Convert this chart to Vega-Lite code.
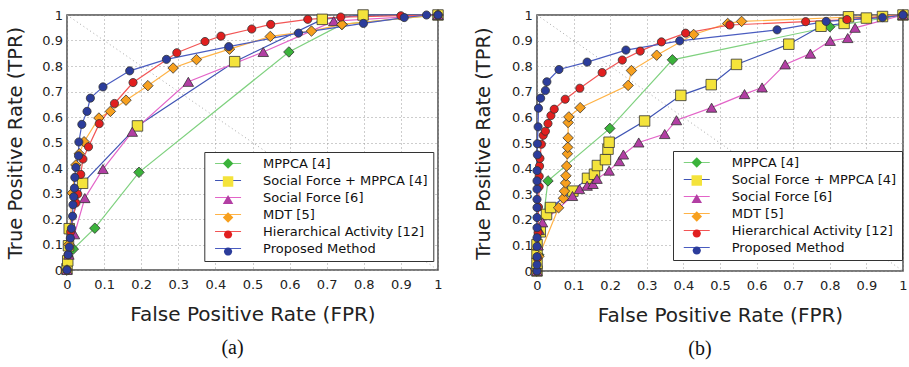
{
  "$schema": "https://vega.github.io/schema/vega-lite/v6.json",
  "background": "white",
  "padding": {"left": 5, "right": 5, "top": 7, "bottom": 5},
  "spacing": 26,
  "config": {
    "view": {"stroke": "#4d4d4d", "strokeWidth": 1.5},
    "axis": {"grid": true, "gridColor": "#9a9a9a", "gridDash": [1, 3], "gridWidth": 1, "domain": false, "ticks": false,
      "labelFont": "DejaVu Sans", "labelFontSize": 13, "labelColor": "#222", "labelFlush": false, "labelOverlap": false,
      "titleFont": "DejaVu Sans", "titleFontWeight": "normal", "titleColor": "#222"}
  },
  "datasets": {
    "diag": [{"fpr": 0, "tpr": 1}, {"fpr": 1, "tpr": 0}],
    "darkgrid": [{"fpr": 0.2}, {"fpr": 0.8}],
    "a": [
      {"method": "MPPCA [4]", "fpr": 0, "tpr": 0},
      {"method": "MPPCA [4]", "fpr": 0.017, "tpr": 0.082},
      {"method": "MPPCA [4]", "fpr": 0.075, "tpr": 0.164},
      {"method": "MPPCA [4]", "fpr": 0.194, "tpr": 0.383},
      {"method": "MPPCA [4]", "fpr": 0.598, "tpr": 0.855},
      {"method": "MPPCA [4]", "fpr": 0.741, "tpr": 0.963},
      {"method": "MPPCA [4]", "fpr": 1, "tpr": 1},
      {"method": "Social Force + MPPCA [4]", "fpr": 0, "tpr": 0.005},
      {"method": "Social Force + MPPCA [4]", "fpr": 0.002, "tpr": 0.036},
      {"method": "Social Force + MPPCA [4]", "fpr": 0.004, "tpr": 0.095},
      {"method": "Social Force + MPPCA [4]", "fpr": 0.006, "tpr": 0.162},
      {"method": "Social Force + MPPCA [4]", "fpr": 0.042, "tpr": 0.34},
      {"method": "Social Force + MPPCA [4]", "fpr": 0.19, "tpr": 0.565},
      {"method": "Social Force + MPPCA [4]", "fpr": 0.452, "tpr": 0.817},
      {"method": "Social Force + MPPCA [4]", "fpr": 0.688, "tpr": 0.983},
      {"method": "Social Force + MPPCA [4]", "fpr": 0.798, "tpr": 1},
      {"method": "Social Force + MPPCA [4]", "fpr": 1, "tpr": 1},
      {"method": "Social Force [6]", "fpr": 0, "tpr": 0},
      {"method": "Social Force [6]", "fpr": 0.005, "tpr": 0.06},
      {"method": "Social Force [6]", "fpr": 0.02, "tpr": 0.14},
      {"method": "Social Force [6]", "fpr": 0.048, "tpr": 0.282},
      {"method": "Social Force [6]", "fpr": 0.097, "tpr": 0.396},
      {"method": "Social Force [6]", "fpr": 0.176, "tpr": 0.542},
      {"method": "Social Force [6]", "fpr": 0.327, "tpr": 0.738},
      {"method": "Social Force [6]", "fpr": 0.529, "tpr": 0.855},
      {"method": "Social Force [6]", "fpr": 0.719, "tpr": 0.976},
      {"method": "Social Force [6]", "fpr": 1, "tpr": 1},
      {"method": "MDT [5]", "fpr": 0, "tpr": 0},
      {"method": "MDT [5]", "fpr": 0.005, "tpr": 0.1},
      {"method": "MDT [5]", "fpr": 0.014, "tpr": 0.302},
      {"method": "MDT [5]", "fpr": 0.024, "tpr": 0.412},
      {"method": "MDT [5]", "fpr": 0.033, "tpr": 0.456},
      {"method": "MDT [5]", "fpr": 0.046, "tpr": 0.503},
      {"method": "MDT [5]", "fpr": 0.086, "tpr": 0.596},
      {"method": "MDT [5]", "fpr": 0.117, "tpr": 0.622},
      {"method": "MDT [5]", "fpr": 0.159, "tpr": 0.666},
      {"method": "MDT [5]", "fpr": 0.218, "tpr": 0.723},
      {"method": "MDT [5]", "fpr": 0.286, "tpr": 0.792},
      {"method": "MDT [5]", "fpr": 0.349, "tpr": 0.825},
      {"method": "MDT [5]", "fpr": 0.438, "tpr": 0.866},
      {"method": "MDT [5]", "fpr": 0.548, "tpr": 0.916},
      {"method": "MDT [5]", "fpr": 0.659, "tpr": 0.937},
      {"method": "MDT [5]", "fpr": 0.741, "tpr": 0.963},
      {"method": "MDT [5]", "fpr": 1, "tpr": 1},
      {"method": "Hierarchical Activity [12]", "fpr": 0, "tpr": 0},
      {"method": "Hierarchical Activity [12]", "fpr": 0.003, "tpr": 0.06},
      {"method": "Hierarchical Activity [12]", "fpr": 0.01, "tpr": 0.15},
      {"method": "Hierarchical Activity [12]", "fpr": 0.024, "tpr": 0.263},
      {"method": "Hierarchical Activity [12]", "fpr": 0.029, "tpr": 0.298},
      {"method": "Hierarchical Activity [12]", "fpr": 0.037, "tpr": 0.375},
      {"method": "Hierarchical Activity [12]", "fpr": 0.043, "tpr": 0.435},
      {"method": "Hierarchical Activity [12]", "fpr": 0.058, "tpr": 0.483},
      {"method": "Hierarchical Activity [12]", "fpr": 0.087, "tpr": 0.574},
      {"method": "Hierarchical Activity [12]", "fpr": 0.128, "tpr": 0.653},
      {"method": "Hierarchical Activity [12]", "fpr": 0.178, "tpr": 0.735},
      {"method": "Hierarchical Activity [12]", "fpr": 0.296, "tpr": 0.852},
      {"method": "Hierarchical Activity [12]", "fpr": 0.372, "tpr": 0.896},
      {"method": "Hierarchical Activity [12]", "fpr": 0.415, "tpr": 0.917},
      {"method": "Hierarchical Activity [12]", "fpr": 0.498, "tpr": 0.945},
      {"method": "Hierarchical Activity [12]", "fpr": 0.549, "tpr": 0.963},
      {"method": "Hierarchical Activity [12]", "fpr": 0.649, "tpr": 0.983},
      {"method": "Hierarchical Activity [12]", "fpr": 0.738, "tpr": 0.992},
      {"method": "Hierarchical Activity [12]", "fpr": 0.9, "tpr": 0.997},
      {"method": "Hierarchical Activity [12]", "fpr": 1, "tpr": 1},
      {"method": "Proposed Method", "fpr": 0, "tpr": 0},
      {"method": "Proposed Method", "fpr": 0.003, "tpr": 0.06},
      {"method": "Proposed Method", "fpr": 0.006, "tpr": 0.09},
      {"method": "Proposed Method", "fpr": 0.009, "tpr": 0.125},
      {"method": "Proposed Method", "fpr": 0.012, "tpr": 0.163},
      {"method": "Proposed Method", "fpr": 0.015, "tpr": 0.211},
      {"method": "Proposed Method", "fpr": 0.016, "tpr": 0.256},
      {"method": "Proposed Method", "fpr": 0.018, "tpr": 0.287},
      {"method": "Proposed Method", "fpr": 0.02, "tpr": 0.321},
      {"method": "Proposed Method", "fpr": 0.021, "tpr": 0.363},
      {"method": "Proposed Method", "fpr": 0.024, "tpr": 0.402},
      {"method": "Proposed Method", "fpr": 0.031, "tpr": 0.448},
      {"method": "Proposed Method", "fpr": 0.032, "tpr": 0.502},
      {"method": "Proposed Method", "fpr": 0.04, "tpr": 0.571},
      {"method": "Proposed Method", "fpr": 0.054, "tpr": 0.622},
      {"method": "Proposed Method", "fpr": 0.063, "tpr": 0.674},
      {"method": "Proposed Method", "fpr": 0.097, "tpr": 0.718},
      {"method": "Proposed Method", "fpr": 0.169, "tpr": 0.781},
      {"method": "Proposed Method", "fpr": 0.268, "tpr": 0.826},
      {"method": "Proposed Method", "fpr": 0.436, "tpr": 0.876},
      {"method": "Proposed Method", "fpr": 0.624, "tpr": 0.929},
      {"method": "Proposed Method", "fpr": 0.799, "tpr": 0.967},
      {"method": "Proposed Method", "fpr": 0.909, "tpr": 0.99},
      {"method": "Proposed Method", "fpr": 0.969, "tpr": 1},
      {"method": "Proposed Method", "fpr": 1, "tpr": 1}
    ],
    "b": [
      {"method": "MPPCA [4]", "fpr": 0, "tpr": 0},
      {"method": "MPPCA [4]", "fpr": 0.005, "tpr": 0.063},
      {"method": "MPPCA [4]", "fpr": 0.03, "tpr": 0.352},
      {"method": "MPPCA [4]", "fpr": 0.199, "tpr": 0.557},
      {"method": "MPPCA [4]", "fpr": 0.37, "tpr": 0.825},
      {"method": "MPPCA [4]", "fpr": 0.8, "tpr": 0.954},
      {"method": "MPPCA [4]", "fpr": 1, "tpr": 1},
      {"method": "Social Force + MPPCA [4]", "fpr": 0, "tpr": 0},
      {"method": "Social Force + MPPCA [4]", "fpr": 0, "tpr": 0.03},
      {"method": "Social Force + MPPCA [4]", "fpr": 0, "tpr": 0.07},
      {"method": "Social Force + MPPCA [4]", "fpr": 0, "tpr": 0.103},
      {"method": "Social Force + MPPCA [4]", "fpr": 0.009, "tpr": 0.153},
      {"method": "Social Force + MPPCA [4]", "fpr": 0.026, "tpr": 0.221},
      {"method": "Social Force + MPPCA [4]", "fpr": 0.037, "tpr": 0.248},
      {"method": "Social Force + MPPCA [4]", "fpr": 0.098, "tpr": 0.312},
      {"method": "Social Force + MPPCA [4]", "fpr": 0.138, "tpr": 0.362},
      {"method": "Social Force + MPPCA [4]", "fpr": 0.157, "tpr": 0.378},
      {"method": "Social Force + MPPCA [4]", "fpr": 0.165, "tpr": 0.412},
      {"method": "Social Force + MPPCA [4]", "fpr": 0.187, "tpr": 0.435},
      {"method": "Social Force + MPPCA [4]", "fpr": 0.194, "tpr": 0.476},
      {"method": "Social Force + MPPCA [4]", "fpr": 0.197, "tpr": 0.503},
      {"method": "Social Force + MPPCA [4]", "fpr": 0.294, "tpr": 0.586},
      {"method": "Social Force + MPPCA [4]", "fpr": 0.393, "tpr": 0.686},
      {"method": "Social Force + MPPCA [4]", "fpr": 0.476, "tpr": 0.728},
      {"method": "Social Force + MPPCA [4]", "fpr": 0.545, "tpr": 0.807},
      {"method": "Social Force + MPPCA [4]", "fpr": 0.688, "tpr": 0.886},
      {"method": "Social Force + MPPCA [4]", "fpr": 0.776, "tpr": 0.956},
      {"method": "Social Force + MPPCA [4]", "fpr": 0.839, "tpr": 0.967},
      {"method": "Social Force + MPPCA [4]", "fpr": 0.851, "tpr": 0.993},
      {"method": "Social Force + MPPCA [4]", "fpr": 0.9, "tpr": 0.988},
      {"method": "Social Force + MPPCA [4]", "fpr": 0.944, "tpr": 0.994},
      {"method": "Social Force + MPPCA [4]", "fpr": 1, "tpr": 1},
      {"method": "Social Force [6]", "fpr": 0, "tpr": 0},
      {"method": "Social Force [6]", "fpr": 0.003, "tpr": 0.1},
      {"method": "Social Force [6]", "fpr": 0.006, "tpr": 0.16},
      {"method": "Social Force [6]", "fpr": 0.015, "tpr": 0.19},
      {"method": "Social Force [6]", "fpr": 0.097, "tpr": 0.293},
      {"method": "Social Force [6]", "fpr": 0.116, "tpr": 0.32},
      {"method": "Social Force [6]", "fpr": 0.137, "tpr": 0.333},
      {"method": "Social Force [6]", "fpr": 0.153, "tpr": 0.34},
      {"method": "Social Force [6]", "fpr": 0.164, "tpr": 0.36},
      {"method": "Social Force [6]", "fpr": 0.197, "tpr": 0.392},
      {"method": "Social Force [6]", "fpr": 0.225, "tpr": 0.429},
      {"method": "Social Force [6]", "fpr": 0.236, "tpr": 0.455},
      {"method": "Social Force [6]", "fpr": 0.278, "tpr": 0.502},
      {"method": "Social Force [6]", "fpr": 0.349, "tpr": 0.535},
      {"method": "Social Force [6]", "fpr": 0.381, "tpr": 0.589},
      {"method": "Social Force [6]", "fpr": 0.477, "tpr": 0.638},
      {"method": "Social Force [6]", "fpr": 0.567, "tpr": 0.691},
      {"method": "Social Force [6]", "fpr": 0.615, "tpr": 0.717},
      {"method": "Social Force [6]", "fpr": 0.678, "tpr": 0.807},
      {"method": "Social Force [6]", "fpr": 0.747, "tpr": 0.849},
      {"method": "Social Force [6]", "fpr": 0.801, "tpr": 0.899},
      {"method": "Social Force [6]", "fpr": 0.849, "tpr": 0.91},
      {"method": "Social Force [6]", "fpr": 0.869, "tpr": 0.95},
      {"method": "Social Force [6]", "fpr": 1, "tpr": 1},
      {"method": "MDT [5]", "fpr": 0, "tpr": 0},
      {"method": "MDT [5]", "fpr": 0.005, "tpr": 0.057},
      {"method": "MDT [5]", "fpr": 0.059, "tpr": 0.247},
      {"method": "MDT [5]", "fpr": 0.072, "tpr": 0.284},
      {"method": "MDT [5]", "fpr": 0.075, "tpr": 0.312},
      {"method": "MDT [5]", "fpr": 0.078, "tpr": 0.344},
      {"method": "MDT [5]", "fpr": 0.079, "tpr": 0.372},
      {"method": "MDT [5]", "fpr": 0.081, "tpr": 0.41},
      {"method": "MDT [5]", "fpr": 0.083, "tpr": 0.458},
      {"method": "MDT [5]", "fpr": 0.084, "tpr": 0.483},
      {"method": "MDT [5]", "fpr": 0.085, "tpr": 0.52},
      {"method": "MDT [5]", "fpr": 0.085, "tpr": 0.58},
      {"method": "MDT [5]", "fpr": 0.087, "tpr": 0.602},
      {"method": "MDT [5]", "fpr": 0.118, "tpr": 0.638},
      {"method": "MDT [5]", "fpr": 0.249, "tpr": 0.725},
      {"method": "MDT [5]", "fpr": 0.258, "tpr": 0.783},
      {"method": "MDT [5]", "fpr": 0.327, "tpr": 0.843},
      {"method": "MDT [5]", "fpr": 0.428, "tpr": 0.924},
      {"method": "MDT [5]", "fpr": 0.521, "tpr": 0.967},
      {"method": "MDT [5]", "fpr": 0.559, "tpr": 0.975},
      {"method": "MDT [5]", "fpr": 1, "tpr": 1},
      {"method": "Hierarchical Activity [12]", "fpr": 0, "tpr": 0},
      {"method": "Hierarchical Activity [12]", "fpr": 0.001, "tpr": 0.05},
      {"method": "Hierarchical Activity [12]", "fpr": 0.003, "tpr": 0.15},
      {"method": "Hierarchical Activity [12]", "fpr": 0.004, "tpr": 0.25},
      {"method": "Hierarchical Activity [12]", "fpr": 0.006, "tpr": 0.33},
      {"method": "Hierarchical Activity [12]", "fpr": 0.006, "tpr": 0.37},
      {"method": "Hierarchical Activity [12]", "fpr": 0.007, "tpr": 0.41},
      {"method": "Hierarchical Activity [12]", "fpr": 0.008, "tpr": 0.44},
      {"method": "Hierarchical Activity [12]", "fpr": 0.012, "tpr": 0.495},
      {"method": "Hierarchical Activity [12]", "fpr": 0.017, "tpr": 0.53},
      {"method": "Hierarchical Activity [12]", "fpr": 0.023, "tpr": 0.546},
      {"method": "Hierarchical Activity [12]", "fpr": 0.03, "tpr": 0.576},
      {"method": "Hierarchical Activity [12]", "fpr": 0.038, "tpr": 0.607},
      {"method": "Hierarchical Activity [12]", "fpr": 0.047, "tpr": 0.632},
      {"method": "Hierarchical Activity [12]", "fpr": 0.077, "tpr": 0.671},
      {"method": "Hierarchical Activity [12]", "fpr": 0.117, "tpr": 0.714},
      {"method": "Hierarchical Activity [12]", "fpr": 0.178, "tpr": 0.775},
      {"method": "Hierarchical Activity [12]", "fpr": 0.233, "tpr": 0.824},
      {"method": "Hierarchical Activity [12]", "fpr": 0.282, "tpr": 0.859},
      {"method": "Hierarchical Activity [12]", "fpr": 0.34, "tpr": 0.895},
      {"method": "Hierarchical Activity [12]", "fpr": 0.406, "tpr": 0.929},
      {"method": "Hierarchical Activity [12]", "fpr": 0.527, "tpr": 0.961},
      {"method": "Hierarchical Activity [12]", "fpr": 0.734, "tpr": 0.974},
      {"method": "Hierarchical Activity [12]", "fpr": 0.847, "tpr": 0.982},
      {"method": "Hierarchical Activity [12]", "fpr": 1, "tpr": 1},
      {"method": "Proposed Method", "fpr": 0, "tpr": 0},
      {"method": "Proposed Method", "fpr": 0, "tpr": 0.024},
      {"method": "Proposed Method", "fpr": 0, "tpr": 0.056},
      {"method": "Proposed Method", "fpr": 0, "tpr": 0.096},
      {"method": "Proposed Method", "fpr": 0, "tpr": 0.13},
      {"method": "Proposed Method", "fpr": 0, "tpr": 0.169},
      {"method": "Proposed Method", "fpr": 0, "tpr": 0.209},
      {"method": "Proposed Method", "fpr": 0, "tpr": 0.248},
      {"method": "Proposed Method", "fpr": 0, "tpr": 0.28},
      {"method": "Proposed Method", "fpr": 0, "tpr": 0.32},
      {"method": "Proposed Method", "fpr": 0, "tpr": 0.352},
      {"method": "Proposed Method", "fpr": 0, "tpr": 0.392},
      {"method": "Proposed Method", "fpr": 0.001, "tpr": 0.454},
      {"method": "Proposed Method", "fpr": 0.001, "tpr": 0.497},
      {"method": "Proposed Method", "fpr": 0.003, "tpr": 0.563},
      {"method": "Proposed Method", "fpr": 0.004, "tpr": 0.636},
      {"method": "Proposed Method", "fpr": 0.01, "tpr": 0.675},
      {"method": "Proposed Method", "fpr": 0.023, "tpr": 0.705},
      {"method": "Proposed Method", "fpr": 0.027, "tpr": 0.739},
      {"method": "Proposed Method", "fpr": 0.06, "tpr": 0.787},
      {"method": "Proposed Method", "fpr": 0.137, "tpr": 0.816},
      {"method": "Proposed Method", "fpr": 0.243, "tpr": 0.863},
      {"method": "Proposed Method", "fpr": 0.39, "tpr": 0.899},
      {"method": "Proposed Method", "fpr": 0.656, "tpr": 0.942},
      {"method": "Proposed Method", "fpr": 0.79, "tpr": 0.975},
      {"method": "Proposed Method", "fpr": 0.944, "tpr": 0.99},
      {"method": "Proposed Method", "fpr": 1, "tpr": 1}
    ]
  },
  "resolve": {
    "scale": {"fill": "independent", "stroke": "independent", "shape": "independent"},
    "legend": {"fill": "independent", "stroke": "independent", "shape": "independent"}
  },
  "hconcat": [
    {
      "width": 371, "height": 255,
      "title": {"text": "(a)", "orient": "bottom", "frame": "group", "anchor": "middle", "dx": -20, "offset": 14, "font": "Liberation Serif", "fontSize": 20, "fontWeight": "normal", "color": "#111"},
      "encoding": {
        "x": {"field": "fpr", "type": "quantitative", "scale": {"domain": [0, 1], "nice": false}, "title": "False Positive Rate (FPR)",
          "axis": {"values": [0, 0.1, 0.2, 0.3, 0.4, 0.5, 0.6, 0.7, 0.8, 0.9, 1], "format": "~g", "labelPadding": 8, "titlePadding": 13, "titleFontSize": 20}},
        "y": {"field": "tpr", "type": "quantitative", "scale": {"domain": [0, 1], "nice": false}, "title": "True Positive Rate (TPR)",
          "axis": {"values": [0, 0.1, 0.2, 0.3, 0.4, 0.5, 0.6, 0.7, 0.8, 0.9, 1], "format": "~g", "labelPadding": 4.5, "titlePadding": 16, "titleFontSize": 19.5}}
      },
      "layer": [
        {
          "data": {"name": "diag"},
          "mark": {"type": "line", "color": "#a8a8a8", "strokeDash": [1, 3], "strokeWidth": 1}
        },
        {
          "data": {"name": "darkgrid"},
          "mark": {"type": "rule", "color": "#111", "strokeDash": [1.2, 2.8], "strokeWidth": 1.2},
          "encoding": {"y": {"datum": 0}, "y2": {"datum": 1}}
        },
        {
          "data": {"name": "a"},
          "mark": {"type": "line", "strokeWidth": 1.2},
          "encoding": {
            "stroke": {"field": "method", "type": "nominal",
              "scale": {"domain": ["MPPCA [4]", "Social Force + MPPCA [4]", "Social Force [6]", "MDT [5]", "Hierarchical Activity [12]", "Proposed Method", "-"],
                "range": ["#7fd17f", "#3f54b4", "#e364c8", "#ffb347", "#f25555", "#4a5cc0", "#000000"]},
              "legend": {"title": null, "orient": "none", "legendX": 137.3, "legendY": 137, "padding": 5, "strokeColor": "#333", "fillColor": "#fff",
                "values": ["MPPCA [4]", "Social Force + MPPCA [4]", "Social Force [6]", "MDT [5]", "Hierarchical Activity [12]", "Proposed Method"],
                "symbolType": "M-2.48,0L2.48,0", "symbolSize": 110, "symbolStrokeWidth": 1, "symbolOffset": 12.26,
                "labelFont": "DejaVu Sans", "labelFontSize": 13, "labelColor": "#111", "labelOffset": 28.5, "rowPadding": 3, "labelLimit": 400}}
          }
        },
        {
          "data": {"name": "a"},
          "mark": {"type": "point", "filled": true, "size": 110, "stroke": "#333", "strokeWidth": 0.8, "opacity": 1},
          "encoding": {
            "fill": {"field": "method", "type": "nominal",
              "scale": {"domain": ["MPPCA [4]", "Social Force + MPPCA [4]", "Social Force [6]", "MDT [5]", "Hierarchical Activity [12]", "Proposed Method"],
                "range": ["#3bb33b", "#f4e33b", "#b23ea3", "#f7a01e", "#e11f1f", "#2b3c9b"]},
              "legend": {"title": null, "orient": "none", "legendX": 137.3, "legendY": 137, "padding": 5, "symbolSize": 110, "symbolStrokeColor": "#333", "symbolStrokeWidth": 1, "symbolOffset": 12.26,
                "labelFont": "DejaVu Sans", "labelFontSize": 13, "labelOpacity": 0, "labelOffset": 28.5, "rowPadding": 3, "labelLimit": 400}},
            "shape": {"field": "method", "type": "nominal",
              "scale": {"domain": ["MPPCA [4]", "Social Force + MPPCA [4]", "Social Force [6]", "MDT [5]", "Hierarchical Activity [12]", "Proposed Method"],
                "range": ["diamond", "square", "triangle-up", "diamond", "M0.78,0A0.78,0.78,0,1,1,-0.78,0A0.78,0.78,0,1,1,0.78,0Z", "M0.78,0A0.78,0.78,0,1,1,-0.78,0A0.78,0.78,0,1,1,0.78,0Z"]},
              "legend": {"title": null, "orient": "none", "legendX": 137.3, "legendY": 137, "padding": 5, "symbolSize": 110, "symbolStrokeColor": "#333", "symbolStrokeWidth": 1, "symbolOffset": 12.26,
                "labelFont": "DejaVu Sans", "labelFontSize": 13, "labelOpacity": 0, "labelOffset": 28.5, "rowPadding": 3, "labelLimit": 400}}
          }
        }
      ]
    },
    {
      "width": 366, "height": 256,
      "title": {"text": "(b)", "orient": "bottom", "frame": "group", "anchor": "middle", "dx": -20, "offset": 14, "font": "Liberation Serif", "fontSize": 20, "fontWeight": "normal", "color": "#111"},
      "encoding": {
        "x": {"field": "fpr", "type": "quantitative", "scale": {"domain": [0, 1], "nice": false}, "title": "False Positive Rate (FPR)",
          "axis": {"values": [0, 0.1, 0.2, 0.3, 0.4, 0.5, 0.6, 0.7, 0.8, 0.9, 1], "format": "~g", "labelPadding": 8, "titlePadding": 13, "titleFontSize": 20}},
        "y": {"field": "tpr", "type": "quantitative", "scale": {"domain": [0, 1], "nice": false}, "title": "True Positive Rate (TPR)",
          "axis": {"values": [0, 0.1, 0.2, 0.3, 0.4, 0.5, 0.6, 0.7, 0.8, 0.9, 1], "format": "~g", "labelPadding": 4.7, "titlePadding": 18, "titleFontSize": 19.5}}
      },
      "layer": [
        {
          "data": {"name": "diag"},
          "mark": {"type": "line", "color": "#a8a8a8", "strokeDash": [1, 3], "strokeWidth": 1}
        },
        {
          "data": {"name": "b"},
          "mark": {"type": "line", "strokeWidth": 1.2},
          "encoding": {
            "stroke": {"field": "method", "type": "nominal",
              "scale": {"domain": ["MPPCA [4]", "Social Force + MPPCA [4]", "Social Force [6]", "MDT [5]", "Hierarchical Activity [12]", "Proposed Method", "-"],
                "range": ["#7fd17f", "#3f54b4", "#e364c8", "#ffb347", "#f25555", "#4a5cc0", "#000000"]},
              "legend": {"title": null, "orient": "none", "legendX": 136, "legendY": 136, "padding": 5, "strokeColor": "#333", "fillColor": "#fff",
                "values": ["MPPCA [4]", "Social Force + MPPCA [4]", "Social Force [6]", "MDT [5]", "Hierarchical Activity [12]", "Proposed Method"],
                "symbolType": "M-2.48,0L2.48,0", "symbolSize": 110, "symbolStrokeWidth": 1, "symbolOffset": 12.26,
                "labelFont": "DejaVu Sans", "labelFontSize": 13, "labelColor": "#111", "labelOffset": 28.5, "rowPadding": 3, "labelLimit": 400}}
          }
        },
        {
          "data": {"name": "b"},
          "mark": {"type": "point", "filled": true, "size": 110, "stroke": "#333", "strokeWidth": 0.8, "opacity": 1},
          "encoding": {
            "fill": {"field": "method", "type": "nominal",
              "scale": {"domain": ["MPPCA [4]", "Social Force + MPPCA [4]", "Social Force [6]", "MDT [5]", "Hierarchical Activity [12]", "Proposed Method"],
                "range": ["#3bb33b", "#f4e33b", "#b23ea3", "#f7a01e", "#e11f1f", "#2b3c9b"]},
              "legend": {"title": null, "orient": "none", "legendX": 136, "legendY": 136, "padding": 5, "symbolSize": 110, "symbolStrokeColor": "#333", "symbolStrokeWidth": 1, "symbolOffset": 12.26,
                "labelFont": "DejaVu Sans", "labelFontSize": 13, "labelOpacity": 0, "labelOffset": 28.5, "rowPadding": 3, "labelLimit": 400}},
            "shape": {"field": "method", "type": "nominal",
              "scale": {"domain": ["MPPCA [4]", "Social Force + MPPCA [4]", "Social Force [6]", "MDT [5]", "Hierarchical Activity [12]", "Proposed Method"],
                "range": ["diamond", "square", "triangle-up", "diamond", "M0.78,0A0.78,0.78,0,1,1,-0.78,0A0.78,0.78,0,1,1,0.78,0Z", "M0.78,0A0.78,0.78,0,1,1,-0.78,0A0.78,0.78,0,1,1,0.78,0Z"]},
              "legend": {"title": null, "orient": "none", "legendX": 136, "legendY": 136, "padding": 5, "symbolSize": 110, "symbolStrokeColor": "#333", "symbolStrokeWidth": 1, "symbolOffset": 12.26,
                "labelFont": "DejaVu Sans", "labelFontSize": 13, "labelOpacity": 0, "labelOffset": 28.5, "rowPadding": 3, "labelLimit": 400}}
          }
        }
      ]
    }
  ]
}
